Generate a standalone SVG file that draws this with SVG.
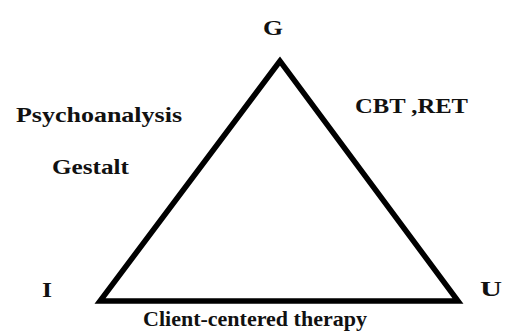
<svg xmlns="http://www.w3.org/2000/svg" width="505" height="333" viewBox="0 0 505 333">
<style>
text{font-weight:bold;fill:#111}
.l{font-size:21px}
.v{font-size:22px}
</style>
<rect width="505" height="333" fill="#fff"/>
<g id="connectors">
<polygon points="280,61 100,301 458,301" fill="none" stroke="#000" stroke-width="5.5" stroke-linejoin="miter"/>
</g>
<g font-family="Liberation Serif, DejaVu Serif, serif">
<g id="G"><text class="v" x="263" y="35" textLength="20" lengthAdjust="spacingAndGlyphs">G</text></g>
<g id="I"><text class="v" x="42" y="297" textLength="10" lengthAdjust="spacingAndGlyphs">I</text></g>
<g id="U"><text class="v" x="480" y="296" textLength="22" lengthAdjust="spacingAndGlyphs">U</text></g>
<g id="psychoanalysis"><text class="l" x="16" y="122" textLength="166" lengthAdjust="spacingAndGlyphs">Psychoanalysis</text></g>
<g id="gestalt"><text class="l" x="52" y="174" textLength="77" lengthAdjust="spacingAndGlyphs">Gestalt</text></g>
<g id="cbt"><text class="l" x="355" y="113" textLength="113" lengthAdjust="spacingAndGlyphs">CBT ,RET</text></g>
<g id="client"><text class="l" x="143" y="326" textLength="224" lengthAdjust="spacingAndGlyphs">Client-centered therapy</text></g>
</g>
</svg>
